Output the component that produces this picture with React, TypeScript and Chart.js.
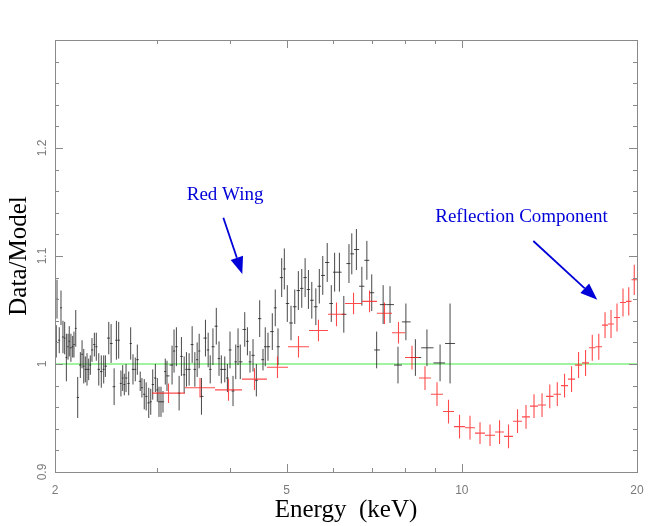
import React, { useEffect, useRef } from "react";
import { Chart, registerables } from "chart.js";

Chart.register(...registerables);

// ---- Axis ticks ----
const xTickValues = [2, 3, 4, 5, 6, 7, 8, 9, 10, 20];
const xTickLabels = ["2", "", "", "5", "", "", "", "", "10", "20"];
const yTickValues = [0.9, 0.92, 0.94, 0.96, 0.98, 1.0, 1.02, 1.04, 1.06, 1.08, 1.1, 1.12, 1.14, 1.16, 1.18, 1.2, 1.22, 1.24, 1.26, 1.28, 1.3];
const yLabelValues = [0.9, 1.0, 1.1, 1.2];
const yLabelTexts = ["0.9", "1", "1.1", "1.2"];

// ---- Black data (energy keV, ratio, 1-sigma error) ----
const blackEnergy = [
  2.010, 2.016, 2.034, 2.048, 2.064, 2.078, 2.092, 2.106, 2.116, 2.130,
  2.145, 2.156, 2.171, 2.188, 2.211, 2.226, 2.241, 2.255, 2.270, 2.285,
  2.300, 2.315, 2.337, 2.355, 2.378, 2.402, 2.425, 2.441, 2.474, 2.497,
  2.527, 2.550, 2.573, 2.596, 2.614, 2.631, 2.649, 2.677, 2.698, 2.723,
  2.748, 2.770, 2.802, 2.821, 2.847, 2.869, 2.898, 2.921, 2.944, 2.975,
  2.998, 3.018, 3.042, 3.066, 3.094, 3.115, 3.178, 3.203, 3.233, 3.268,
  3.298, 3.334, 3.364, 3.400, 3.441, 3.478, 3.510, 3.538, 3.570, 3.627,
  3.666, 3.696, 3.736, 3.786, 3.827, 3.862, 3.915, 3.956, 3.997, 4.045,
  4.089, 4.126, 4.163, 4.237, 4.282, 4.326, 4.378, 4.436, 4.495, 4.554,
  4.595, 4.645, 4.725, 4.781, 4.833, 4.904, 4.955, 5.014, 5.088, 5.164,
  5.238, 5.309, 5.380, 5.451, 5.524, 5.613, 5.691, 5.769, 5.872, 5.967,
  6.046, 6.162, 6.270, 6.399, 6.471, 6.590, 6.734, 6.869, 7.002, 7.140,
  7.326, 7.528, 7.769, 8.016, 8.323, 8.712, 9.176, 9.546,
];
const blackRatio = [
  1.021, 1.060, 1.022, 1.052, 1.025, 1.024, 1.006, 1.016, 1.021, 1.015,
  1.016, 1.018, 1.033, 0.969, 0.999, 1.009, 0.998, 0.995, 0.995, 0.995,
  0.999, 1.013, 1.018, 1.016, 0.995, 0.993, 0.995, 0.998, 1.024, 1.019,
  0.979, 1.022, 1.022, 0.982, 0.987, 0.981, 0.987, 0.982, 1.019, 0.995,
  0.995, 1.004, 0.984, 0.978, 0.972, 0.970, 0.964, 0.965, 0.981, 0.987,
  0.976, 0.965, 0.965, 0.965, 0.993, 0.989, 0.999, 1.012, 1.016, 0.973,
  1.007, 0.990, 0.995, 0.995, 1.018, 0.995, 1.004, 1.012, 0.970, 1.024,
  1.013, 0.995, 1.016, 1.035, 1.005, 0.995, 0.995, 0.987, 1.013, 0.975,
  1.002, 1.016, 1.002, 1.032, 1.021, 1.002, 1.008, 0.985, 1.042, 1.004,
  1.016, 1.016, 1.030, 1.052, 1.016, 1.080, 1.088, 1.056, 1.038, 1.053,
  1.068, 1.070, 1.080, 1.069, 1.059, 1.053, 1.072, 1.082, 1.094, 1.056,
  1.085, 1.085, 1.046, 1.093, 1.102, 1.106, 1.072, 1.096, 1.066, 1.013,
  1.055, 1.055, 0.999, 1.039, 1.006, 1.015, 1.001, 1.019,
];
const blackErr = [
  0.015, 0.018, 0.012, 0.016, 0.015, 0.015, 0.022, 0.012, 0.014, 0.013,
  0.010, 0.012, 0.017, 0.019, 0.012, 0.013, 0.016, 0.012, 0.015, 0.010,
  0.009, 0.011, 0.011, 0.013, 0.015, 0.015, 0.013, 0.010, 0.015, 0.018,
  0.017, 0.018, 0.017, 0.012, 0.012, 0.010, 0.013, 0.011, 0.015, 0.014,
  0.011, 0.014, 0.009, 0.009, 0.014, 0.013, 0.014, 0.012, 0.014, 0.013,
  0.011, 0.014, 0.014, 0.010, 0.012, 0.014, 0.018, 0.020, 0.018, 0.016,
  0.018, 0.017, 0.016, 0.015, 0.017, 0.016, 0.016, 0.016, 0.017, 0.017,
  0.016, 0.013, 0.017, 0.017, 0.016, 0.013, 0.012, 0.013, 0.017, 0.014,
  0.016, 0.017, 0.016, 0.016, 0.013, 0.010, 0.015, 0.015, 0.017, 0.010,
  0.018, 0.013, 0.017, 0.017, 0.017, 0.018, 0.019, 0.017, 0.016, 0.016,
  0.018, 0.018, 0.018, 0.018, 0.017, 0.017, 0.016, 0.018, 0.018, 0.017,
  0.018, 0.018, 0.017, 0.018, 0.019, 0.019, 0.018, 0.018, 0.017, 0.017,
  0.018, 0.017, 0.017, 0.017, 0.017, 0.017, 0.017, 0.037,
];

// ---- Red data (contiguous energy bins) ----
const redEdges = [
  2.936, 3.345, 3.767, 4.191, 4.626, 5.028, 5.463, 5.889, 6.300, 6.739,
  7.150, 7.587, 7.987, 8.442, 8.853, 9.283, 9.697, 10.128, 10.536, 10.962,
  11.405, 11.818, 12.246, 12.690, 13.098, 13.520, 13.955, 14.375, 14.808, 15.224,
  15.652, 16.091, 16.543, 16.974, 17.416, 17.834, 18.262, 18.699, 19.149, 19.570,
  20.0,
];
const redRatio = [
  0.973, 0.978, 0.976, 0.986, 0.997, 1.016, 1.031, 1.046, 1.056, 1.058,
  1.047, 1.029, 1.006, 0.987, 0.972, 0.956, 0.942, 0.941, 0.936, 0.934,
  0.937, 0.933, 0.947, 0.951, 0.961, 0.962, 0.970, 0.972, 0.980, 0.986,
  0.999, 1.001, 1.015, 1.016, 1.036, 1.037, 1.043, 1.057, 1.058, 1.078,
];
const redErr = [
  0.009, 0.009, 0.010, 0.010, 0.010, 0.010, 0.010, 0.011, 0.010, 0.010,
  0.010, 0.010, 0.011, 0.011, 0.011, 0.011, 0.011, 0.011, 0.010, 0.010,
  0.011, 0.011, 0.011, 0.011, 0.011, 0.011, 0.011, 0.011, 0.011, 0.012,
  0.012, 0.012, 0.012, 0.012, 0.012, 0.013, 0.013, 0.013, 0.013, 0.014,
];

// ---- Unity reference line ----
const unityEnergy = [2, 20];
const unityRatio = [1, 1];

// ---- Annotations (anchored in data coordinates) ----
const annotationTexts = ["Red Wing", "Reflection Component"];
const annotationTextE = [3.921, 12.665];
const annotationTextY = [1.1522, 1.1311];
const arrowFromE = [3.893, 13.271];
const arrowFromY = [1.1354, 1.1139];
const arrowToE = [4.196, 17.09];
const arrowToY = [1.0834, 1.0594];

const SERIF = "'Liberation Serif', 'Times New Roman', Times, serif";
const SANS = "'Liberation Sans', Arial, Helvetica, sans-serif";

const blackPoints = blackEnergy.map((e, i) => {
  const prev = i > 0 ? blackEnergy[i - 1] : (e * e) / blackEnergy[i + 1];
  const next = i < blackEnergy.length - 1 ? blackEnergy[i + 1] : (e * e) / blackEnergy[i - 1];
  return {
    x: e,
    y: blackRatio[i],
    xMin: Math.sqrt(prev * e),
    xMax: Math.sqrt(e * next),
    yMin: blackRatio[i] - blackErr[i],
    yMax: blackRatio[i] + blackErr[i],
  };
});

const redPoints = redRatio.map((r, i) => ({
  x: Math.sqrt(redEdges[i] * redEdges[i + 1]),
  y: r,
  xMin: redEdges[i],
  xMax: redEdges[i + 1],
  yMin: r - redErr[i],
  yMax: r + redErr[i],
}));

const errorBarPlugin = {
  id: "errorBars",
  afterDatasetsDraw(chart: any) {
    const { ctx, chartArea } = chart;
    const xs = chart.scales.x;
    const ys = chart.scales.y;
    ctx.save();
    ctx.beginPath();
    ctx.rect(chartArea.left, chartArea.top, chartArea.right - chartArea.left, chartArea.bottom - chartArea.top);
    ctx.clip();
    chart.data.datasets.forEach((ds: any) => {
      if (!ds.errorBars) return;
      ctx.strokeStyle = ds.borderColor;
      ctx.lineWidth = ds.errorBarWidth;
      ctx.beginPath();
      for (const p of ds.data) {
        const px = xs.getPixelForValue(p.x);
        const py = ys.getPixelForValue(p.y);
        ctx.moveTo(xs.getPixelForValue(p.xMin), py);
        ctx.lineTo(xs.getPixelForValue(p.xMax), py);
        ctx.moveTo(px, ys.getPixelForValue(p.yMin));
        ctx.lineTo(px, ys.getPixelForValue(p.yMax));
      }
      ctx.stroke();
    });
    ctx.restore();
  },
};

const framePlugin = {
  id: "frame",
  afterDraw(chart: any) {
    const { ctx, chartArea } = chart;
    const xs = chart.scales.x;
    const ys = chart.scales.y;
    const { left, right, top, bottom } = chartArea;
    ctx.save();
    // frame
    ctx.strokeStyle = "#8a8a8a";
    ctx.lineWidth = 1;
    ctx.strokeRect(left + 0.5, top + 0.5, right - left, bottom - top);
    // x ticks (bottom & top, inward)
    ctx.beginPath();
    xs.ticks.forEach((t: any) => {
      const v = t.value;
      if (v <= 2 || v >= 20) return;
      const idx = xTickValues.indexOf(v);
      const major = idx >= 0 && xTickLabels[idx] !== "";
      const len = major ? 8 : 4;
      const px = Math.round(xs.getPixelForValue(v)) + 0.5;
      ctx.moveTo(px, bottom);
      ctx.lineTo(px, bottom - len);
      ctx.moveTo(px, top);
      ctx.lineTo(px, top + len);
    });
    // y ticks (left & right, inward)
    ys.ticks.forEach((t: any) => {
      const v = t.value;
      if (v <= 0.9 + 1e-9 || v >= 1.3 - 1e-9) return;
      const major = Math.abs(v * 10 - Math.round(v * 10)) < 1e-6;
      const len = major ? 8 : 4;
      const py = Math.round(ys.getPixelForValue(v)) + 0.5;
      ctx.moveTo(left, py);
      ctx.lineTo(left + len, py);
      ctx.moveTo(right, py);
      ctx.lineTo(right - len, py);
    });
    ctx.stroke();
    // rotated y tick labels
    ctx.fillStyle = "#7a7a7a";
    ctx.font = `12px ${SANS}`;
    ctx.textAlign = "center";
    ctx.textBaseline = "middle";
    yLabelValues.forEach((v, i) => {
      const py = ys.getPixelForValue(v);
      ctx.save();
      ctx.translate(left - 12, py);
      ctx.rotate(-Math.PI / 2);
      ctx.fillText(yLabelTexts[i], 0, 0);
      ctx.restore();
    });
    // annotations
    ctx.fillStyle = "#0000d8";
    ctx.strokeStyle = "#0000d8";
    ctx.font = `19px ${SERIF}`;
    ctx.textAlign = "center";
    ctx.textBaseline = "alphabetic";
    annotationTexts.forEach((txt, i) => {
      ctx.fillText(txt, xs.getPixelForValue(annotationTextE[i]), ys.getPixelForValue(annotationTextY[i]));
      const x0 = xs.getPixelForValue(arrowFromE[i]);
      const y0 = ys.getPixelForValue(arrowFromY[i]);
      const x1 = xs.getPixelForValue(arrowToE[i]);
      const y1 = ys.getPixelForValue(arrowToY[i]);
      const ang = Math.atan2(y1 - y0, x1 - x0);
      const headLen = 17;
      const headHalf = 6.5;
      const bx = x1 - headLen * Math.cos(ang);
      const by = y1 - headLen * Math.sin(ang);
      ctx.lineWidth = 1.8;
      ctx.beginPath();
      ctx.moveTo(x0, y0);
      ctx.lineTo(bx, by);
      ctx.stroke();
      ctx.beginPath();
      ctx.moveTo(x1, y1);
      ctx.lineTo(bx + headHalf * Math.sin(ang), by - headHalf * Math.cos(ang));
      ctx.lineTo(bx - headHalf * Math.sin(ang), by + headHalf * Math.cos(ang));
      ctx.closePath();
      ctx.fill();
    });
    ctx.restore();
  },
};

export default function App() {
  const canvasRef = useRef<HTMLCanvasElement | null>(null);

  useEffect(() => {
    if (!canvasRef.current) return;
    const chart = new Chart(canvasRef.current, {
      type: "scatter",
      data: {
        datasets: [
          {
            label: "unity",
            type: "line",
            data: unityEnergy.map((e, i) => ({ x: e, y: unityRatio[i] })),
            borderColor: "rgb(128,240,128)",
            borderWidth: 1.5,
            pointRadius: 0,
            order: 3,
          } as any,
          {
            label: "data",
            data: blackPoints,
            pointRadius: 0,
            borderColor: "rgba(40,40,40,0.85)",
            errorBars: true,
            errorBarWidth: 1,
            order: 2,
          } as any,
          {
            label: "model",
            data: redPoints,
            pointRadius: 0,
            borderColor: "rgba(255,30,30,0.8)",
            errorBars: true,
            errorBarWidth: 1.1,
            order: 1,
          } as any,
        ],
      },
      options: {
        responsive: false,
        animation: false,
        devicePixelRatio: 1,
        layout: { padding: { top: 40, right: 27, left: 0, bottom: 0 } },
        plugins: { legend: { display: false }, tooltip: { enabled: false } },
        scales: {
          x: {
            type: "logarithmic",
            min: 2,
            max: 20,
            position: "bottom",
            grid: { display: false, drawTicks: false },
            border: { display: false },
            afterBuildTicks: (s: any) => {
              s.ticks = xTickValues.map((v) => ({ value: v }));
            },
            afterFit: (s: any) => {
              s.height = 54;
            },
            ticks: {
              autoSkip: false,
              maxRotation: 0,
              minRotation: 0,
              padding: 11,
              color: "#7a7a7a",
              font: { family: SANS, size: 12 },
              callback: (v: any) => {
                const i = xTickValues.indexOf(Number(v));
                return i >= 0 ? xTickLabels[i] : "";
              },
            },
            title: {
              display: true,
              text: "Energy  (keV)",
              color: "#000",
              font: { family: SERIF, size: 25 },
              padding: { top: 0, bottom: 1 },
            },
          },
          y: {
            type: "linear",
            min: 0.9,
            max: 1.3,
            grid: { display: false, drawTicks: false },
            border: { display: false },
            afterBuildTicks: (s: any) => {
              s.ticks = yTickValues.map((v) => ({ value: v }));
            },
            afterFit: (s: any) => {
              s.width = 55;
            },
            ticks: { display: false },
            title: {
              display: true,
              text: "Data/Model",
              color: "#000",
              font: { family: SERIF, size: 25 },
              padding: { top: 4, bottom: 0 },
            },
          },
        },
      },
      plugins: [errorBarPlugin, framePlugin],
    } as any);
    return () => chart.destroy();
  }, []);

  return (
    <div style={{ position: "absolute", left: 0, top: 0, width: 664, height: 526, background: "#fff" }}>
      <canvas ref={canvasRef} width={664} height={526} style={{ display: "block", width: 664, height: 526 }} />
    </div>
  );
}
